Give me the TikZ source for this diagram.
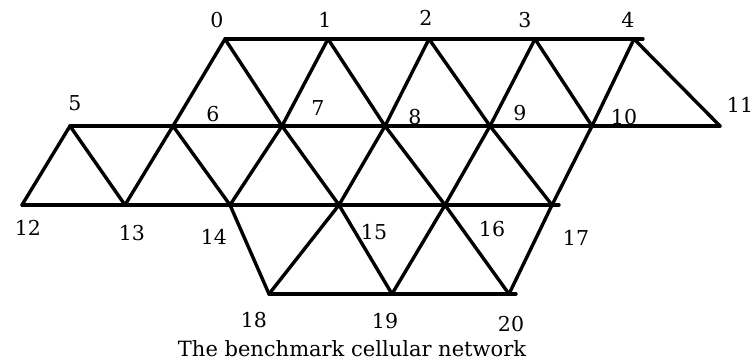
\documentclass[tikz,border=0pt]{standalone}
\usepackage{fontspec}
\setmainfont{DejaVu Serif}
\begin{document}
\begin{tikzpicture}[x=1pt,y=-1pt,
  edge/.style={line width=3.4pt,line cap=round,black},
  lbl/.style={font=\fontsize{20.5}{24}\selectfont,inner sep=0pt,anchor=center},
  captext/.style={font=\fontsize{21}{25}\selectfont,inner sep=0pt,anchor=center}]
\useasboundingbox (0,0) rectangle (754,362);
% vertices
\coordinate (v0) at (225,39);
\coordinate (v1) at (328,39);
\coordinate (v2) at (429,39);
\coordinate (v3) at (535,39);
\coordinate (v4) at (634,39);
\coordinate (v5) at (70,126);
\coordinate (v6) at (173,126);
\coordinate (v7) at (282,126);
\coordinate (v8) at (385,126);
\coordinate (v9) at (490,126);
\coordinate (v10) at (592,126);
\coordinate (v11) at (720,126);
\coordinate (v12) at (22,205);
\coordinate (v13) at (125,205);
\coordinate (v14) at (230,205);
\coordinate (v15) at (339,205);
\coordinate (v16) at (445,205);
\coordinate (v17) at (552,205);
\coordinate (v18) at (269,294);
\coordinate (v19) at (392,294);
\coordinate (v20) at (509,294);
% horizontal rows
\draw[edge] (v0) -- (v1) -- (v2) -- (v3) -- (v4) -- ++(9,0);
\draw[edge] (v5) -- (v6) -- (v7) -- (v8) -- (v9) -- (v10) -- (v11);
\draw[edge] (v12) -- (v13) -- (v14) -- (v15) -- (v16) -- (v17) -- ++(7,0);
\draw[edge] (v18) -- (v19) -- (v20) -- ++(7,0);
% diagonals
\draw[edge] (v0) -- (v6);
\draw[edge] (v0) -- (v7);
\draw[edge] (v1) -- (v7);
\draw[edge] (v1) -- (v8);
\draw[edge] (v2) -- (v8);
\draw[edge] (v2) -- (v9);
\draw[edge] (v3) -- (v9);
\draw[edge] (v3) -- (v10);
\draw[edge] (v4) -- (v10);
\draw[edge] (v4) -- (v11);
\draw[edge] (v5) -- (v12);
\draw[edge] (v5) -- (v13);
\draw[edge] (v6) -- (v13);
\draw[edge] (v6) -- (v14);
\draw[edge] (v7) -- (v14);
\draw[edge] (v7) -- (v15);
\draw[edge] (v8) -- (v15);
\draw[edge] (v8) -- (v16);
\draw[edge] (v9) -- (v16);
\draw[edge] (v9) -- (v17);
\draw[edge] (v10) -- (v17);
\draw[edge] (v14) -- (v18);
\draw[edge] (v15) -- (v18);
\draw[edge] (v15) -- (v19);
\draw[edge] (v16) -- (v19);
\draw[edge] (v16) -- (v20);
\draw[edge] (v17) -- (v20);
% labels
\node[lbl] (l0) at (217,20) {0};
\node[lbl] (l1) at (325,20) {1};
\node[lbl] (l2) at (426,18) {2};
\node[lbl] (l3) at (525,20) {3};
\node[lbl] (l4) at (628,20) {4};
\node[lbl] (l5) at (75,103) {5};
\node[lbl] (l6) at (213,114) {6};
\node[lbl] (l7) at (318,108) {7};
\node[lbl] (l8) at (415,117) {8};
\node[lbl] (l9) at (520,113) {9};
\node[lbl] (l10) at (624,117) {10};
\node[lbl] (l11) at (740,105) {11};
\node[lbl] (l12) at (28,228) {12};
\node[lbl] (l13) at (132,233) {13};
\node[lbl] (l14) at (214,237) {14};
\node[lbl] (l15) at (374,232) {15};
\node[lbl] (l16) at (492,229) {16};
\node[lbl] (l17) at (576,238) {17};
\node[lbl] (l18) at (254,320) {18};
\node[lbl] (l19) at (385,321) {19};
\node[lbl] (l20) at (511,324) {20};
\node[captext] (caption) at (352,349) {The benchmark cellular network};
\end{tikzpicture}
\end{document}
